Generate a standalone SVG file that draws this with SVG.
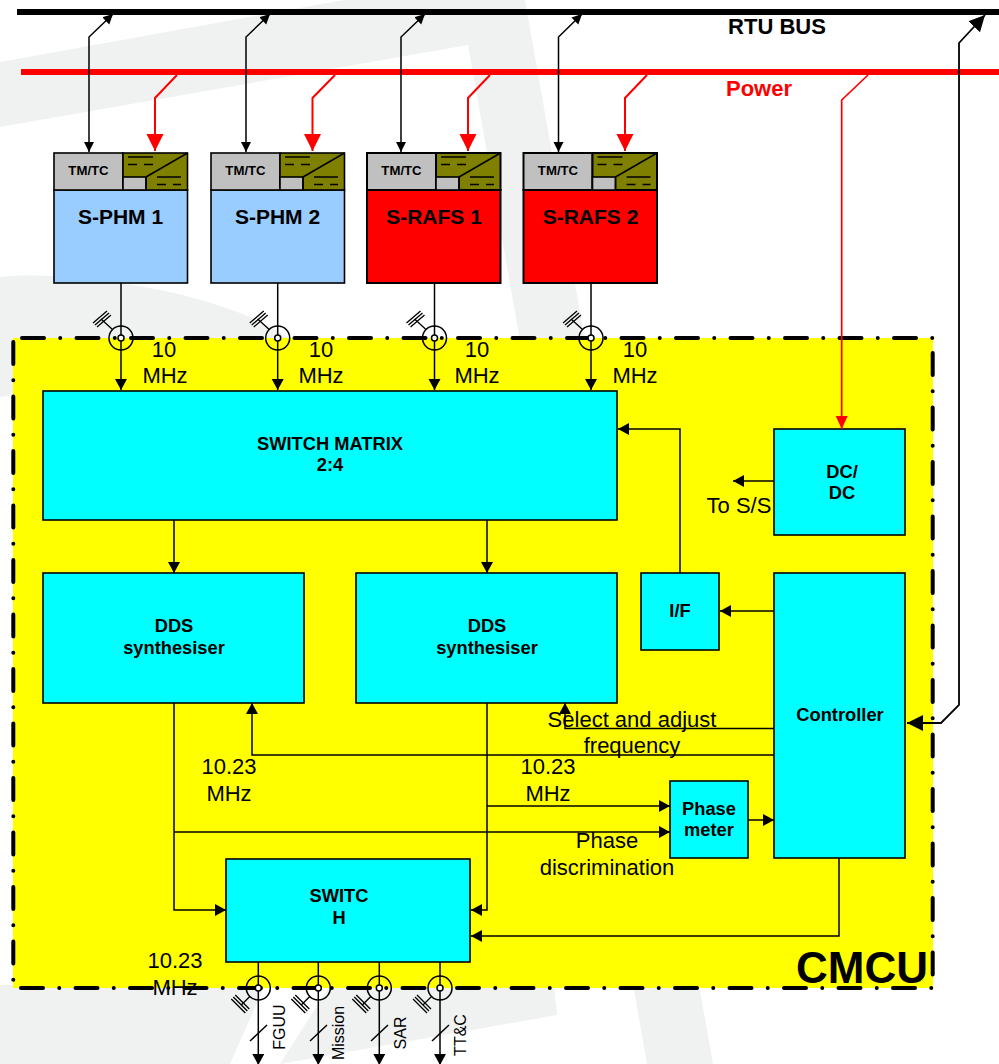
<svg xmlns="http://www.w3.org/2000/svg" width="999" height="1064" viewBox="0 0 999 1064">
<style>
text{font-family:"Liberation Sans",Arial,sans-serif;text-anchor:middle;fill:#000}
.b{font-weight:bold;font-size:18.300px}
.h{font-weight:bold;font-size:21px}
.bus{font-weight:bold;font-size:22px}
.t{font-weight:bold;font-size:13.200px}
.r{font-size:22px}
.v{font-size:16px}
.box{fill:#0ff;stroke:#000;stroke-width:1.6}
.c{fill:none;stroke:#000;stroke-width:1.5}
.rd{fill:none;stroke:#f00;stroke-width:2}
.wm{fill:#f0f2f2}
.frame{fill:none;stroke:#000;stroke-width:4;stroke-linecap:round;stroke-dasharray:22 16.25 0.01 16.24}
.hdr{stroke:#000;stroke-width:1.6}
.ol{stroke:#000;stroke-width:1.5;fill:none}
.ol2{stroke:#000;stroke-width:1.5;fill:none;stroke-dasharray:9 7}
</style>
<defs>
<marker id="as" markerUnits="userSpaceOnUse" markerWidth="11" markerHeight="11" refX="10" refY="5" orient="auto-start-reverse"><path d="M0 0L10 5L0 10z" fill="#000"/></marker>
<marker id="am" markerUnits="userSpaceOnUse" markerWidth="12" markerHeight="13" refX="11" refY="6" orient="auto-start-reverse"><path d="M0 0L11 6L0 12z" fill="#000"/></marker>
<marker id="al" markerUnits="userSpaceOnUse" markerWidth="17" markerHeight="17" refX="16" refY="8" orient="auto-start-reverse"><path d="M0 0L16 8L0 16z" fill="#000"/></marker>
<marker id="rb" markerUnits="userSpaceOnUse" markerWidth="18" markerHeight="18" refX="17" refY="8.5" orient="auto"><path d="M0 0L17 8.500L0 17z" fill="#f00"/></marker>
<marker id="rs" markerUnits="userSpaceOnUse" markerWidth="14" markerHeight="13" refX="13" refY="6" orient="auto"><path d="M0 0L13 6L0 12z" fill="#f00"/></marker>
<g id="coax"><circle r="12" fill="none" stroke="#000" stroke-width="1.500"/><circle r="3" fill="#fff" stroke="#000" stroke-width="1.500"/></g>
<g id="gndT" fill="none" stroke="#000" stroke-width="1.300"><path d="M-8.500-8.500L-20-19"/><path d="M-28-15L-14-27M-26-13L-12-25M-24-11L-10-23"/></g>
<g id="gndB" fill="none" stroke="#000" stroke-width="1.300"><path d="M-8.500 8.500L-17 17"/><path d="M-27 11L-13 25M-25 9L-11 23M-23 7L-9 21"/></g>
</defs>

<rect width="999" height="1064" fill="#fff"/>
<g id="watermark">
<path class="wm" d="M0 62L344 0H525L713 1064H647L468 45L0 127z"/>
<path class="wm" d="M0 277Q40 272 110 282Q180 290 240 313Q270 325 300 345L13 395L0 397z"/>
<path class="wm" d="M0 985H265L230 1064H0z"/>
<path class="wm" d="M280 1064L330 985H554L557 1015z"/>
</g>

<rect id="cmcu-area" x="13" y="338" width="920" height="650" fill="#ff0"/>
<g id="cmcu-frame">
<path class="frame" d="M22 338H933"/>
<path class="frame" d="M13.300 342V988"/>
<path class="frame" d="M21 988H933"/>
<path class="frame" d="M932.700 353V988"/>
</g>

<g id="bus-rtu"><rect x="17" y="9" width="982" height="6" fill="#000"/><text class="bus" x="777" y="34">RTU BUS</text></g>
<g id="bus-power"><rect x="21" y="69" width="978" height="6" fill="#f00"/><text class="bus" x="759" y="96" style="fill:#f00">Power</text></g>

<g id="s-phm-1" transform="translate(54 0)">
<rect x="0" y="190" width="133.500" height="93" fill="#9cf" stroke="#000" stroke-width="1.600"/>
<rect class="hdr" x="0" y="153" width="69" height="37" fill="#c0c0c0"/>
<rect class="hdr" x="69" y="153" width="64.500" height="37" fill="#808000"/>
<rect class="hdr" x="69" y="177" width="23" height="13" fill="#c0c0c0"/>
<path class="ol" d="M92 177L133.500 153M92 177V190M74 157H99M103 177H127"/>
<path class="ol2" d="M74 164.500H99M103 184.500H127"/>
<text class="t" x="34.500" y="175">TM/TC</text>
<text class="h" x="66.500" y="224">S-PHM 1</text>
</g>
<g id="s-phm-2" transform="translate(211 0)">
<rect x="0" y="190" width="133.500" height="93" fill="#9cf" stroke="#000" stroke-width="1.600"/>
<rect class="hdr" x="0" y="153" width="69" height="37" fill="#c0c0c0"/>
<rect class="hdr" x="69" y="153" width="64.500" height="37" fill="#808000"/>
<rect class="hdr" x="69" y="177" width="23" height="13" fill="#c0c0c0"/>
<path class="ol" d="M92 177L133.500 153M92 177V190M74 157H99M103 177H127"/>
<path class="ol2" d="M74 164.500H99M103 184.500H127"/>
<text class="t" x="34.500" y="175">TM/TC</text>
<text class="h" x="66.500" y="224">S-PHM 2</text>
</g>
<g id="s-rafs-1" transform="translate(367 0)">
<rect x="0" y="190" width="133.500" height="93" fill="#f00" stroke="#000" stroke-width="2"/>
<rect class="hdr" x="0" y="153" width="69" height="37" fill="#c0c0c0" style="stroke-width:2"/>
<rect class="hdr" x="69" y="153" width="64.500" height="37" fill="#808000" style="stroke-width:2"/>
<rect class="hdr" x="69" y="177" width="23" height="13" fill="#c0c0c0"/>
<path class="ol" d="M92 177L133.500 153M92 177V190M74 157H99M103 177H127"/>
<path class="ol2" d="M74 164.500H99M103 184.500H127"/>
<text class="t" x="34.500" y="175">TM/TC</text>
<text class="h" x="67" y="224">S-RAFS 1</text>
</g>
<g id="s-rafs-2" transform="translate(523.500 0)">
<rect x="0" y="190" width="133.500" height="93" fill="#f00" stroke="#000" stroke-width="2"/>
<rect class="hdr" x="0" y="153" width="69" height="37" fill="#c0c0c0" style="stroke-width:2"/>
<rect class="hdr" x="69" y="153" width="64.500" height="37" fill="#808000" style="stroke-width:2"/>
<rect class="hdr" x="69" y="177" width="23" height="13" fill="#c0c0c0"/>
<path class="ol" d="M92 177L133.500 153M92 177V190M74 157H99M103 177H127"/>
<path class="ol2" d="M74 164.500H99M103 184.500H127"/>
<text class="t" x="34.500" y="175">TM/TC</text>
<text class="h" x="67" y="224">S-RAFS 2</text>
</g>

<g id="switch-matrix"><rect class="box" x="43" y="391" width="574" height="129"/><text class="b" x="330" y="450">SWITCH MATRIX</text><text class="b" x="330" y="471">2:4</text></g>
<g id="dds-1"><rect class="box" x="43" y="573" width="261" height="130"/><text class="b" x="174" y="632">DDS</text><text class="b" x="174" y="654">synthesiser</text></g>
<g id="dds-2"><rect class="box" x="356" y="573" width="261" height="130"/><text class="b" x="487" y="632">DDS</text><text class="b" x="487" y="654">synthesiser</text></g>
<g id="if"><rect class="box" x="641" y="573" width="78" height="77"/><text class="b" x="680" y="617">I/F</text></g>
<g id="dcdc"><rect class="box" x="774" y="429" width="131" height="106"/><text class="b" x="842" y="478">DC/</text><text class="b" x="842" y="499">DC</text></g>
<g id="controller"><rect class="box" x="774" y="573" width="131" height="285"/><text class="b" x="840" y="721">Controller</text></g>
<g id="phase-meter"><rect class="box" x="670" y="781" width="78" height="77"/><text class="b" x="709" y="815">Phase</text><text class="b" x="709" y="836">meter</text></g>
<g id="switch"><rect class="box" x="226" y="859" width="244" height="103"/><text class="b" x="339" y="902">SWITC</text><text class="b" x="339" y="924">H</text></g>

<g id="connectors">
<path class="c" d="M89 152V37L113 14" marker-start="url(#as)" marker-end="url(#as)"/>
<path class="c" d="M246 152V37L270 14" marker-start="url(#as)" marker-end="url(#as)"/>
<path class="c" d="M401 152V37L425 14" marker-start="url(#as)" marker-end="url(#as)"/>
<path class="c" d="M558.500 152V37L582 14" marker-start="url(#as)" marker-end="url(#as)"/>
<path class="rd" d="M177 75L155 98V151" marker-end="url(#rb)"/>
<path class="rd" d="M335 75L312.500 98V151" marker-end="url(#rb)"/>
<path class="rd" d="M490 75L468 98V151" marker-end="url(#rb)"/>
<path class="rd" d="M647 75L625 98V151" marker-end="url(#rb)"/>
<path class="rd" d="M868 75L841.700 100V429" marker-end="url(#rs)" style="stroke-width:1.700"/>
<path class="c" d="M985 15L959 43V705L941 723H907" marker-start="url(#al)" marker-end="url(#al)" style="stroke-width:1.800"/>

<path class="c" d="M121 283V390" marker-end="url(#am)"/>
<path class="c" d="M277.700 283V390" marker-end="url(#am)"/>
<path class="c" d="M434.500 283V390" marker-end="url(#am)"/>
<path class="c" d="M591 283V390" marker-end="url(#am)"/>
<use href="#coax" x="121" y="338"/><use href="#gndT" x="121" y="338"/>
<use href="#coax" x="277.700" y="338"/><use href="#gndT" x="277.700" y="338"/>
<use href="#coax" x="434.500" y="338"/><use href="#gndT" x="434.500" y="338"/>
<use href="#coax" x="591" y="338"/><use href="#gndT" x="591" y="338"/>

<path class="c" d="M174 520V573" marker-end="url(#am)"/>
<path class="c" d="M487 520V573" marker-end="url(#am)"/>
<path class="c" d="M680 573V429H618" marker-end="url(#am)"/>
<path class="c" d="M774 611H720" marker-end="url(#am)"/>
<path class="c" d="M774 481H733" marker-end="url(#am)"/>
<path class="c" d="M774 728.500H565V703" marker-end="url(#am)"/>
<path class="c" d="M774 755H252V703" marker-end="url(#am)"/>
<path class="c" d="M748 820H774" marker-end="url(#am)"/>
<path class="c" d="M487 703V910H471" marker-end="url(#am)"/>
<path class="c" d="M487 806H670" marker-end="url(#am)"/>
<path class="c" d="M174 703V910H226" marker-end="url(#am)"/>
<path class="c" d="M174 832H670" marker-end="url(#am)"/>
<path class="c" d="M839 858V936H471" marker-end="url(#am)"/>

<path class="c" d="M258.300 962V1065" marker-end="url(#am)"/>
<path class="c" d="M318.300 962V1065" marker-end="url(#am)"/>
<path class="c" d="M379.300 962V1065" marker-end="url(#am)"/>
<path class="c" d="M440 962V1065" marker-end="url(#am)"/>
<use href="#coax" x="258.300" y="988"/><use href="#gndB" x="258.300" y="988"/>
<use href="#coax" x="318.300" y="988"/><use href="#gndB" x="318.300" y="988"/>
<use href="#coax" x="379.300" y="988"/><use href="#gndB" x="379.300" y="988"/>
<use href="#coax" x="440" y="988"/><use href="#gndB" x="440" y="988"/>
<path class="c" d="M250 1041L267 1025M310 1041L327 1025M371 1041L388 1025M432 1041L449 1025"/>
</g>

<g id="labels">
<text class="r" x="164" y="357">10</text><text class="r" x="165" y="383">MHz</text>
<text class="r" x="321" y="357">10</text><text class="r" x="321" y="383">MHz</text>
<text class="r" x="477" y="357">10</text><text class="r" x="477" y="383">MHz</text>
<text class="r" x="635" y="357">10</text><text class="r" x="635" y="383">MHz</text>
<text class="r" x="739" y="513">To S/S</text>
<text class="r" x="632" y="727">Select and adjust</text><text class="r" x="632" y="753">frequency</text>
<text class="r" x="229" y="774">10.23</text><text class="r" x="229" y="801">MHz</text>
<text class="r" x="548" y="774">10.23</text><text class="r" x="548" y="801">MHz</text>
<text class="r" x="607" y="848">Phase</text><text class="r" x="607" y="875">discrimination</text>
<text class="r" x="175" y="968">10.23</text><text class="r" x="175" y="995">MHz</text>
<text x="862" y="983" style="font-weight:bold;font-size:44px">CMCU</text>
<text class="v" transform="translate(285 1027) rotate(-90)">FGUU</text>
<text class="v" transform="translate(344 1033) rotate(-90)">Mission</text>
<text class="v" transform="translate(406 1033) rotate(-90)">SAR</text>
<text class="v" transform="translate(466 1035) rotate(-90)">TT&amp;C</text>
</g>
</svg>
